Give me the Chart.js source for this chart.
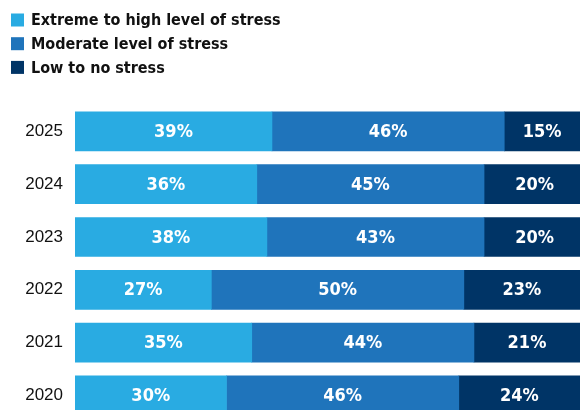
<!DOCTYPE html>
<html>
<head>
<meta charset="utf-8">
<script src="https://cdn.jsdelivr.net/npm/chart.js@4.4.1/dist/chart.umd.min.js"></script>
<style>
  html, body { margin: 0; padding: 0; background: #fff; overflow: hidden; }
  canvas { display: block; }
</style>
</head>
<body>
<canvas id="stressChart" width="588" height="444"></canvas>
<script>
var years = ['2025', '2024', '2023', '2022', '2021', '2020'];
var highStress = [39, 36, 38, 27, 35, 30];
var moderateStress = [46, 45, 43, 50, 44, 46];
var lowStress = [15, 20, 20, 23, 21, 24];
var seriesNames = ['Extreme to high level of stress', 'Moderate level of stress', 'Low to no stress'];
var seriesColors = ['#29abe2', '#1f74bb', '#003466'];

// legend as a column of squares in the top-left corner
var boxLegend = {
  id: 'boxLegend',
  afterDraw: function(chart) {
    var ctx = chart.ctx;
    ctx.save();
    ctx.font = 'bold 16px "DejaVu Sans Condensed", "DejaVu Sans", sans-serif';
    ctx.textBaseline = 'middle';
    chart.data.datasets.forEach(function(ds, i) {
      var y = 20 + i * 23.7;
      ctx.fillStyle = ds.backgroundColor;
      ctx.fillRect(11, y - 6.5, 13, 13);
      ctx.fillStyle = '#111';
      ctx.fillText(ds.label, 31, y + 1);
    });
    ctx.restore();
  }
};

// white percentage in the middle of each segment
var segmentLabels = {
  id: 'segmentLabels',
  afterDatasetsDraw: function(chart) {
    var ctx = chart.ctx;
    ctx.save();
    ctx.font = 'bold 18px "DejaVu Sans Condensed", "DejaVu Sans", sans-serif';
    ctx.fillStyle = '#fff';
    ctx.textAlign = 'center';
    ctx.textBaseline = 'middle';
    chart.data.datasets.forEach(function(ds, i) {
      chart.getDatasetMeta(i).data.forEach(function(bar, j) {
        var p = bar.getCenterPoint();
        ctx.fillText(ds.data[j] + '%', p.x, p.y + 1);
      });
    });
    ctx.restore();
  }
};

var series = [highStress, moderateStress, lowStress];
var datasets = series.map(function(values, i) {
  return {
    label: seriesNames[i],
    data: values,
    backgroundColor: seriesColors[i],
    borderWidth: 0,
    barThickness: 39
  };
});

// the last bar runs past the bottom of the visible window
new Chart(document.getElementById('stressChart'), {
  type: 'bar',
  data: { labels: years, datasets: datasets },
  options: {
    indexAxis: 'y',
    responsive: false,
    animation: false,
    layout: { padding: { top: 105, right: 8, bottom: 0, left: 0 } },
    plugins: {
      legend: { display: false },
      tooltip: { enabled: false }
    },
    scales: {
      x: { stacked: true, display: false, min: 0, max: 100 },
      y: {
        stacked: true,
        grid: { display: false, drawTicks: false },
        border: { display: false },
        ticks: {
          color: '#111',
          padding: 12,
          font: { family: '"Liberation Sans", sans-serif', size: 17 }
        },
        afterFit: function(scale) { scale.width = 75; }
      }
    }
  },
  plugins: [boxLegend, segmentLabels]
});
</script>
</body>
</html>
